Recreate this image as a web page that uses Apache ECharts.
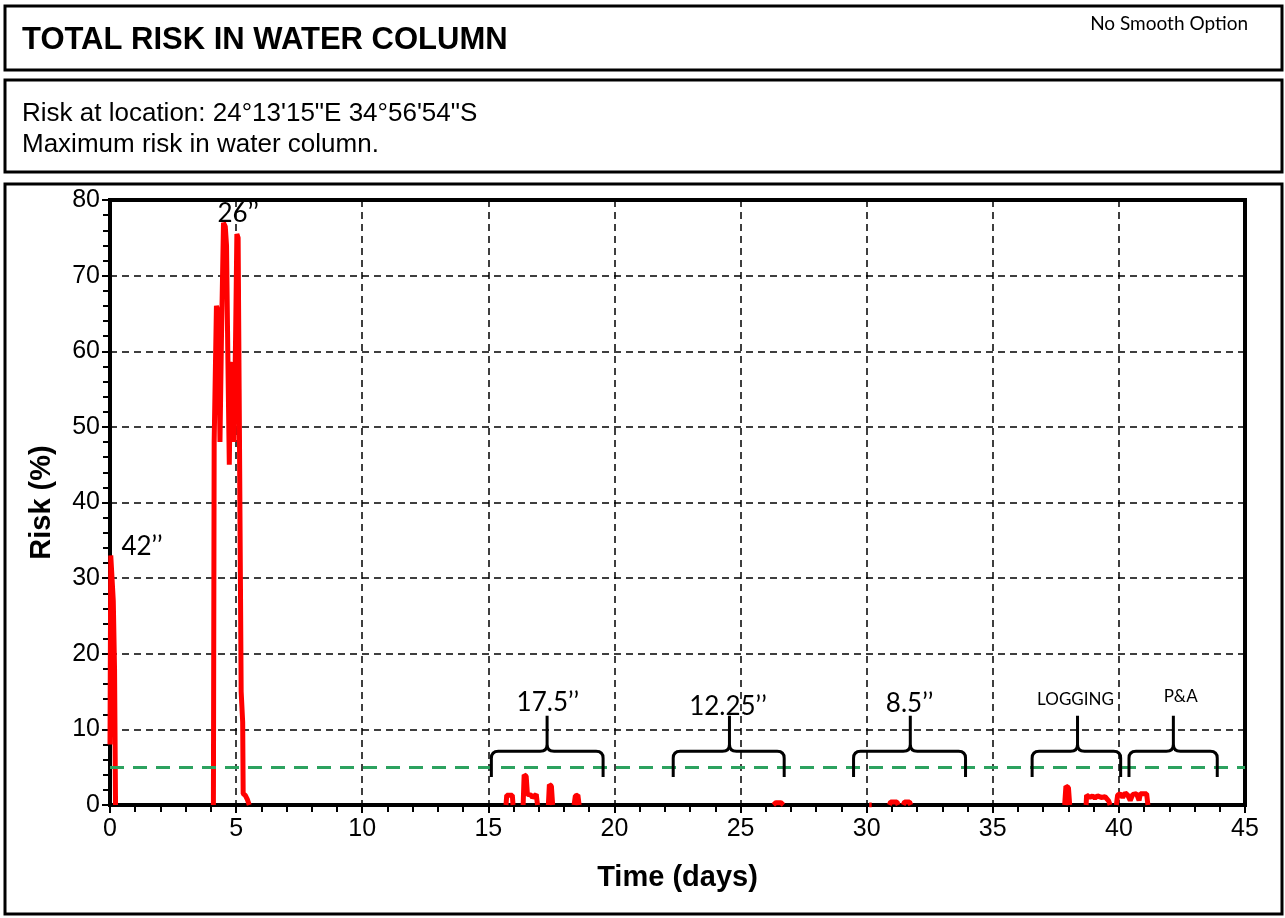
<!DOCTYPE html>
<html>
<head>
<meta charset="utf-8">
<script src="https://cdn.jsdelivr.net/npm/echarts@6/dist/echarts.min.js"></script>
<style>
html,body{margin:0;padding:0;background:#fff;}
#chart{width:1285px;height:918px;}
</style>
</head>
<body>
<div id="chart"></div>
<script>
// ---- Data ----
const timeDays = [
  0, 0.03, 0.1, 0.13, 0.18, 0.22, null,
  4.1, 4.13, 4.18, 4.22, 4.3, 4.36, 4.42, 4.5, 4.57, 4.62, 4.67, 4.73, 4.78, 4.86, 4.92, 4.98, 5.03, 5.08, 5.12, 5.17, 5.2, 5.26, 5.28, 5.36, 5.45, 5.52, null,
  15.7, 15.73, 15.95, 15.98, null,
  16.38, 16.42, 16.5, 16.55, 16.7, 16.75, 16.9, 16.95, null,
  17.38, 17.42, 17.5, 17.55, null,
  18.4, 18.45, 18.55, 18.6, null,
  26.3, 26.4, 26.6, 26.7, null,
  30.1, 30.15, 30.2, null,
  30.9, 30.95, 31.2, 31.25, null,
  31.45, 31.5, 31.7, 31.75, null,
  37.85, 37.9, 38.0, 38.05, null,
  38.7, 38.72, 38.85, 38.95, 39.05, 39.15, 39.3, 39.45, 39.6, 39.65, null,
  39.9, 39.95, 40.05, 40.15, 40.25, 40.35, 40.45, 40.55, 40.7, 40.8, 40.85, 41.1, 41.15
];
const riskPct = [
  8, 33, 33, 27, 18, 0, null,
  0, 48, 58, 66, 65, 48, 62, 77, 76.5, 74, 60, 45, 58, 58.5, 48, 62, 75.5, 75, 55, 30, 15, 11, 1.5, 1.3, 0.7, 0, null,
  0, 1.3, 1.3, 0, null,
  0, 4.0, 3.8, 1.4, 1.3, 1.0, 1.4, 0, null,
  0, 2.7, 2.5, 0, null,
  0, 1.2, 1.3, 0, null,
  0, 0.3, 0.3, 0, null,
  0, 0.2, 0, null,
  0, 0.4, 0.4, 0, null,
  0, 0.4, 0.4, 0, null,
  0, 2.5, 2.3, 0, null,
  0, 1.3, 1.0, 1.2, 0.9, 1.2, 1.0, 1.1, 0.5, 0, null,
  0, 1.3, 1.5, 1.0, 1.6, 1.3, 0.6, 1.4, 1.5, 0.6, 1.5, 1.5, 0
];
const THRESHOLD = 5;

const xTicks = [0, 5, 10, 15, 20, 25, 30, 35, 40, 45];
const yTicks = [0, 10, 20, 30, 40, 50, 60, 70, 80];

// Section braces (start day, end day, middle day)
const braceStart = [15.12, 22.33, 29.48, 36.56, 40.40];
const braceEnd   = [19.55, 26.73, 33.92, 40.07, 43.90];
const braceMid   = [17.33, 24.56, 31.73, 38.36, 42.16];
const BRACE_LOW = 3.7, BRACE_BAR = 7.1, BRACE_TIP = 11.8;

// Annotation texts with their anchor (day, risk)
const annoText = ['42\u2019\u2019', '26\u2019\u2019', '17.5\u2019\u2019', '12.25\u2019\u2019', '8.5\u2019\u2019', 'LOGGING', 'P&A'];
const annoX    = [1.27, 5.08, 17.36, 24.5, 31.7, 38.28, 42.45];
const annoY    = [34.2, 78.2, 13.6, 13.0, 13.4, 13.9, 14.4];
const annoBig  = [true, true, true, true, true, false, false];

// ---- Chart ----
const chart = echarts.init(document.getElementById('chart'), null, {renderer: 'canvas'});
const lineData = timeDays.map((t, i) => (t === null ? [null, null] : [t, riskPct[i]]));

const option = {
  animation: false,
  backgroundColor: '#fff',
  grid: {left: 110, right: 40, top: 200, bottom: 113, show: true, borderColor: '#000', borderWidth: 4, backgroundColor: 'transparent'},
  xAxis: {
    type: 'value', min: 0, max: 45, interval: 5,
    name: 'Time (days)', nameLocation: 'middle', nameGap: 58,
    nameTextStyle: {fontFamily: 'Liberation Sans', fontWeight: 'bold', fontSize: 29, color: '#000'},
    axisLine: {show: true, onZero: false, lineStyle: {color: '#000', width: 4}},
    axisTick: {show: true, inside: false, length: 8, lineStyle: {color: '#000', width: 2}},
    minorTick: {show: true, splitNumber: 5, length: 7, lineStyle: {color: '#000', width: 2}},
    axisLabel: {fontFamily: 'Liberation Sans', fontSize: 25, color: '#000', margin: 12,
      formatter: v => (xTicks.indexOf(v) >= 0 ? String(v) : '')},
    splitLine: {show: true, lineStyle: {color: '#000', width: 1.5, type: [7, 5]}}
  },
  yAxis: {
    type: 'value', min: 0, max: 80, interval: 10,
    name: 'Risk (%)', nameLocation: 'middle', nameGap: 54,
    nameTextStyle: {fontFamily: 'Liberation Sans', fontWeight: 'bold', fontSize: 29, color: '#000'},
    axisLine: {show: true, onZero: false, lineStyle: {color: '#000', width: 4}},
    axisTick: {show: true, inside: false, length: 8, lineStyle: {color: '#000', width: 2}},
    minorTick: {show: true, splitNumber: 5, length: 7, lineStyle: {color: '#000', width: 2}},
    axisLabel: {fontFamily: 'Liberation Sans', fontSize: 25, color: '#000', margin: 10,
      formatter: v => (yTicks.indexOf(v) >= 0 ? String(v) : '')},
    splitLine: {show: true, lineStyle: {color: '#000', width: 1.5, type: [7, 5]}}
  },
  series: [
    {
      type: 'line', data: lineData, showSymbol: false, symbol: 'none', connectNulls: false,
      lineStyle: {color: '#ff0000', width: 5}, z: 3,
      markLine: {
        silent: true, symbol: 'none', label: {show: false},
        lineStyle: {color: '#2ca25f', width: 3, type: [14, 9]},
        data: [{yAxis: THRESHOLD}]
      }
    },
    {
      type: 'custom', z: 5, silent: true,
      data: braceStart.map((s, i) => [s, BRACE_BAR, braceEnd[i], braceMid[i]]),
      encode: {x: [0, 2, 3], y: 1},
      renderItem: function (params, api) {
        const s = api.value(0), e = api.value(2), m = api.value(3);
        const pL = api.coord([s, BRACE_LOW]), pB = api.coord([s, BRACE_BAR]);
        const pE = api.coord([e, BRACE_BAR]), pM = api.coord([m, BRACE_BAR]);
        const pT = api.coord([m, BRACE_TIP]);
        const r = 7;
        const x0 = pL[0], x1 = pE[0], xc = pM[0], yb = pL[1], ym = pB[1], yt = pT[1];
        const d = 'M' + x0 + ',' + yb + ' L' + x0 + ',' + (ym + r) +
          ' Q' + x0 + ',' + ym + ' ' + (x0 + r) + ',' + ym +
          ' L' + (xc - r) + ',' + ym +
          ' Q' + xc + ',' + ym + ' ' + xc + ',' + (ym - r) +
          ' L' + xc + ',' + yt +
          ' M' + x1 + ',' + yb + ' L' + x1 + ',' + (ym + r) +
          ' Q' + x1 + ',' + ym + ' ' + (x1 - r) + ',' + ym +
          ' L' + (xc + r) + ',' + ym +
          ' Q' + xc + ',' + ym + ' ' + xc + ',' + (ym - r);
        return {type: 'path', shape: {pathData: d}, style: {stroke: '#000', fill: 'none', lineWidth: 3}};
      }
    },
    {
      type: 'custom', z: 6, silent: true,
      data: annoX.map((x, i) => [x, annoY[i]]),
      renderItem: function (params, api) {
        const i = params.dataIndex;
        const p = api.coord([api.value(0), api.value(1)]);
        return {
          type: 'text', x: p[0], y: p[1],
          style: {
            text: annoText[i],
            font: (annoBig[i] ? '26px' : '17px') + ' Lato, "Open Sans", sans-serif',
            fill: '#000', textAlign: 'center', textVerticalAlign: 'middle'
          }
        };
      }
    }
  ],
  graphic: {
    elements: [
      {type: 'rect', shape: {x: 5, y: 6, width: 1277, height: 64}, style: {fill: 'none', stroke: '#000', lineWidth: 3}, z: 10},
      {type: 'rect', shape: {x: 5, y: 80, width: 1277, height: 92}, style: {fill: 'none', stroke: '#000', lineWidth: 3}, z: 10},
      {type: 'rect', shape: {x: 5, y: 184, width: 1277, height: 730}, style: {fill: 'none', stroke: '#000', lineWidth: 3}, z: 10},
      {type: 'text', x: 22, y: 40, style: {text: 'TOTAL RISK IN WATER COLUMN', font: 'bold 31px "Liberation Sans", Arial, sans-serif', fill: '#000', textAlign: 'left', textVerticalAlign: 'middle'}, z: 10},
      {type: 'text', x: 1248, y: 24, style: {text: 'No Smooth Option', font: '19px Lato, "Open Sans", sans-serif', fill: '#000', textAlign: 'right', textVerticalAlign: 'middle'}, z: 10},
      {type: 'text', x: 22, y: 114, style: {text: 'Risk at location: 24\u00b013\'15"E 34\u00b056\'54"S', font: '26px "Liberation Sans", Arial, sans-serif', fill: '#000', textAlign: 'left', textVerticalAlign: 'middle'}, z: 10},
      {type: 'text', x: 22, y: 145, style: {text: 'Maximum risk in water column.', font: '26px "Liberation Sans", Arial, sans-serif', fill: '#000', textAlign: 'left', textVerticalAlign: 'middle'}, z: 10}
    ]
  }
};
chart.setOption(option);
</script>
</body>
</html>
